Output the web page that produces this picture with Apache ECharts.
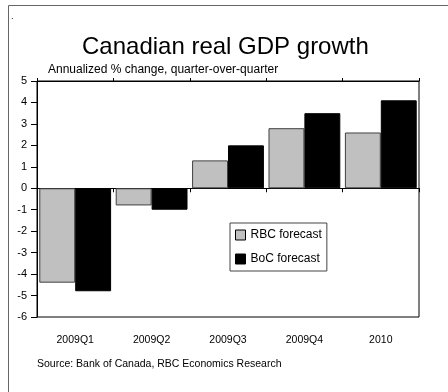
<!DOCTYPE html>
<html>
<head>
<meta charset="utf-8">
<script src="https://cdn.jsdelivr.net/npm/echarts@6/dist/echarts.min.js"></script>
<style>
  html, body { margin: 0; padding: 0; background: #fff; }
  #chart { width: 448px; height: 392px; }
</style>
</head>
<body>
<div id="chart"></div>
<script>
// Quarterly periods on the category axis
const periods = ['2009Q1', '2009Q2', '2009Q3', '2009Q4', '2010'];
// Annualized % change, quarter-over-quarter
const rbcForecast = [-4.4, -0.8, 1.3, 2.8, 2.6];
const bocForecast = [-4.8, -1.0, 2.0, 3.5, 4.1];
// Value axis range
const yTicks = { min: -6, max: 5, step: 1 };

const FONT = '"Liberation Sans", Arial, sans-serif';

const chart = echarts.init(document.getElementById('chart'), null, { renderer: 'canvas' });

chart.setOption({
  animation: false,
  backgroundColor: '#fff',
  textStyle: { fontFamily: FONT, color: '#000' },
  title: {
    text: 'Canadian real GDP growth',
    left: 82,
    top: 35,
    padding: 0,
    textStyle: { fontFamily: FONT, fontSize: 24, fontWeight: 'normal', color: '#000' }
  },
  graphic: [
    {
      type: 'polyline',
      shape: { points: [[8.5, 392], [8.5, 5.5], [448, 5.5]] },
      style: { stroke: '#666', lineWidth: 1, fill: null },
      silent: true
    },
    {
      type: 'text',
      left: 11, top: 12,
      style: { text: '.', fontFamily: FONT, fontSize: 9, fill: '#000' }
    },
    {
      type: 'text',
      left: 48, top: 64,
      style: { text: 'Annualized % change, quarter-over-quarter', fontFamily: FONT, fontSize: 12, fill: '#000' }
    },
    {
      type: 'text',
      left: 37, top: 359,
      style: { text: 'Source: Bank of Canada, RBC Economics Research', fontFamily: FONT, fontSize: 10.5, fill: '#000' }
    }
  ],
  legend: {
    orient: 'vertical',
    left: 230,
    top: 223,
    padding: [6, 5, 6, 5],
    itemGap: 12,
    itemWidth: 10,
    itemHeight: 10,
    itemTextGap: 4,
    icon: 'rect',
    borderColor: '#444',
    borderWidth: 1,
    backgroundColor: '#fff',
    itemStyle: { borderColor: '#000', borderWidth: 1 },
    textStyle: { fontFamily: FONT, fontSize: 12, color: '#000' },
    data: ['RBC forecast', 'BoC forecast']
  },
  grid: {
    left: 37,
    right: 29,
    top: 81,
    height: 236,
    show: true,
    borderColor: '#000',
    borderWidth: 1,
    backgroundColor: '#fff'
  },
  xAxis: [
    {
      // zero line with downward ticks at category boundaries
      type: 'category',
      data: periods,
      position: 'bottom',
      axisLine: { onZero: true, lineStyle: { color: '#000', width: 1 } },
      axisTick: { show: true, length: 4, lineStyle: { color: '#000' } },
      axisLabel: { show: false },
      splitLine: { show: false }
    },
    {
      // upward ticks on the zero line
      type: 'category',
      data: periods,
      position: 'top',
      axisLine: { onZero: true, lineStyle: { color: '#000', width: 1 } },
      axisTick: { show: true, length: 3, lineStyle: { color: '#000' } },
      axisLabel: { show: false },
      splitLine: { show: false }
    },
    {
      // category labels along the bottom of the plot
      type: 'category',
      data: periods,
      position: 'bottom',
      axisLine: { show: false, onZero: false },
      axisTick: { show: false },
      axisLabel: { show: true, margin: 18, fontFamily: FONT, fontSize: 10.5, color: '#000' },
      splitLine: { show: false }
    }
  ],
  yAxis: {
    type: 'value',
    min: yTicks.min,
    max: yTicks.max,
    interval: yTicks.step,
    axisLine: { show: true, lineStyle: { color: '#000', width: 1 } },
    axisTick: { show: true, length: 6, lineStyle: { color: '#000' } },
    axisLabel: { margin: 10, fontFamily: FONT, fontSize: 11, color: '#000' },
    splitLine: { show: false }
  },
  series: [
    {
      name: 'RBC forecast',
      type: 'bar',
      xAxisIndex: 0,
      data: rbcForecast,
      barGap: '0%',
      barCategoryGap: '6%',
      itemStyle: { color: '#c0c0c0', borderColor: '#404040', borderWidth: 1 }
    },
    {
      name: 'BoC forecast',
      type: 'bar',
      xAxisIndex: 0,
      data: bocForecast,
      barGap: '0%',
      barCategoryGap: '6%',
      itemStyle: { color: '#000', borderColor: '#000', borderWidth: 1 }
    }
  ]
});
</script>
</body>
</html>
